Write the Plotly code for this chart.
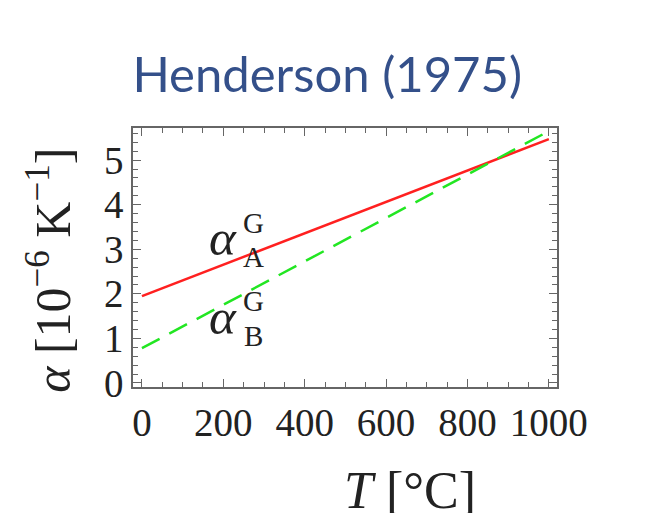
import plotly.graph_objects as go

# Data
T = [0, 1000]
alpha_A = [1.95, 5.47]
alpha_B = [0.78, 5.65]

x_ticks = [0, 200, 400, 600, 800, 1000]
x_tick_labels = ["0", "200", "400", "600", "800", "1000"]
y_ticks = [0, 1, 2, 3, 4, 5]
y_tick_labels = ["0", "1", "2", "3", "4", "5"]

serif = "Liberation Serif"
frame_col = "#666666"

fig = go.Figure()
fig.add_trace(go.Scatter(x=T, y=alpha_A, mode="lines",
                         line=dict(color="#ff2020", width=2.5), showlegend=False))
fig.add_trace(go.Scatter(x=T, y=alpha_B, mode="lines",
                         line=dict(color="#22e622", width=2.5, dash="20px,11px"),
                         showlegend=False))

axis_common = dict(
    showline=True, linecolor=frame_col, linewidth=1.5, mirror="ticks",
    ticks="inside", ticklen=8, tickwidth=1.3, tickcolor=frame_col,
    showgrid=False, zeroline=False,
    tickfont=dict(family=serif, size=39, color="#222222"),
)

fig.update_xaxes(range=[-22, 1020], tickmode="array", tickvals=x_ticks,
                 ticktext=x_tick_labels,
                 minor=dict(dtick=50, tick0=0, ticks="inside", ticklen=5,
                            tickcolor=frame_col, tickwidth=1.2),
                 **axis_common)
fig.update_yaxes(range=[-0.09, 5.72], tickmode="array", tickvals=y_ticks,
                 ticktext=y_tick_labels,
                 minor=dict(dtick=0.2, tick0=0, ticks="inside", ticklen=5,
                            tickcolor=frame_col, tickwidth=1.2),
                 **axis_common)

ann = []
# Axis titles
ann.append(dict(text="<i>T</i> [°C]", xref="paper", yref="paper", x=0.653, y=-0.398,
                showarrow=False, xanchor="center", yanchor="middle",
                font=dict(family=serif, size=52, color="#222222")))
ann.append(dict(text="<i>α</i> [10<sup>−6</sup> K<sup>−1</sup>]", xref="paper", yref="paper",
                x=-0.196, y=0.452, textangle=-90,
                showarrow=False, xanchor="center", yanchor="middle",
                font=dict(family=serif, size=50, color="#222222")))
# Curve labels
for yb, ys, sub in [(3.25, 3.60, "A"), (1.48, 1.83, "B")]:
    ann.append(dict(text="<i>α</i>", x=198, y=yb, xref="x", yref="y", showarrow=False,
                    xanchor="center", yanchor="middle",
                    font=dict(family=serif, size=51, color="#222222")))
    ann.append(dict(text="G", x=274, y=ys, xref="x", yref="y", showarrow=False,
                    xanchor="center", yanchor="middle",
                    font=dict(family=serif, size=29, color="#222222")))
    ann.append(dict(text=sub, x=274, y=ys - 0.77, xref="x", yref="y", showarrow=False,
                    xanchor="center", yanchor="middle",
                    font=dict(family=serif, size=29, color="#222222")))

fig.update_layout(
    width=661, height=513,
    margin=dict(l=133, r=104, t=128, b=126),
    paper_bgcolor="white", plot_bgcolor="white",
    title=dict(text="Henderson (1975)", x=0.495, xref="container", xanchor="center",
               y=1 - 75 / 513, yref="container", yanchor="middle",
               font=dict(family="Lato", size=49, color="#34508a")),
    annotations=ann,
)

fig.write_html("out.html")
